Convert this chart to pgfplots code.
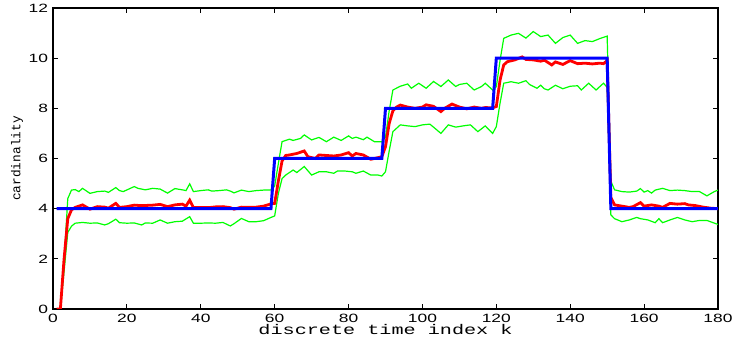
\documentclass[border=0pt]{standalone}
\usepackage{fontspec}
\setmainfont{Liberation Sans}
\newfontfamily\monofont{Liberation Mono}
\usepackage{pgfplots}
\pgfplotsset{compat=1.18}
\begin{document}
\begin{tikzpicture}
\begin{axis}[
  scale only axis, width=332.5pt, height=150.5pt,
  xmin=0, xmax=180, ymin=0, ymax=12,
  xtick={0,20,...,180}, ytick={0,2,...,12},
  tick align=inside, major tick length=2.5pt,
  tick style={black, line width=0.4pt},
  axis line style={black, line width=0.6pt},
  /pgf/number format/assume math mode=true,
  tick label style={font=\fontsize{6}{7}\selectfont, xscale=1.45},
  xticklabel style={anchor=north, inner sep=0pt, yshift=-2.5pt},
  yticklabel style={anchor=east, inner sep=0pt, xshift=-1.5pt},
  xlabel={discrete time index k},
  xlabel style={at={(axis description cs:0.5,0)}, anchor=north, inner sep=0pt, yshift=-7.5pt, font=\monofont\fontsize{7}{8}\selectfont, xscale=1.44},
  ylabel={cardinality},
  ylabel style={at={(axis description cs:-0.054,0.5)}, anchor=center, rotate=0, font=\monofont\fontsize{6.4}{7}\selectfont},
  clip=true,
]
\addplot[color={rgb,255:red,0;green,255;blue,0}, line width=0.6pt] coordinates {
(2,0)(3,1.9)(4,4.4)(5,4.74)(6,4.76)(7,4.68)(8,4.81)(10,4.61)(12,4.68)(14,4.7)(15,4.65)(17,4.84)(18,4.72)(19,4.68)(22,4.88)(23,4.81)(25,4.75)(27,4.81)(29,4.78)(31,4.62)(33,4.8)(35,4.75)(36,4.72)(37,4.99)(38,4.68)(40,4.72)(42,4.75)(43,4.7)(45,4.72)(47,4.75)(48,4.7)(49,4.63)(51,4.74)(53,4.68)(55,4.72)(57,4.74)(59,4.74)(60,4.9)(61,5.8)(62,6.67)(63,6.72)(64,6.77)(65,6.72)(67,6.8)(68,6.94)(70,6.74)(72,6.84)(74,6.67)(76,6.85)(78,6.72)(80,6.9)(81,6.8)(82,6.85)(84,6.75)(85,6.85)(87,6.67)(89,6.67)(90,6.85)(91,7.9)(92,8.73)(94,8.88)(96,8.97)(97,8.8)(99,9.0)(101,8.8)(103,9.07)(105,8.87)(107,9.13)(109,8.87)(110,8.95)(112,9.0)(114,8.73)(116,8.87)(117,9.0)(119,8.73)(120,8.86)(121,9.9)(122,10.79)(124,10.92)(126,10.99)(128,10.8)(130,11.06)(132,10.86)(134,10.92)(136,10.59)(138,10.82)(140,10.92)(142,10.59)(144,10.7)(146,10.66)(148,10.78)(150,10.88)(151,5.1)(152,4.75)(154,4.68)(156,4.66)(158,4.7)(159,4.8)(160,4.66)(161,4.72)(162,4.62)(163,4.74)(165,4.81)(167,4.72)(169,4.74)(171,4.72)(173,4.68)(175,4.68)(177,4.51)(179,4.68)(180,4.74)
};
\addplot[color={rgb,255:red,0;green,255;blue,0}, line width=0.6pt] coordinates {
(2,0)(3,1.5)(4,3.05)(5,3.3)(6,3.42)(8,3.45)(10,3.42)(12,3.43)(14,3.35)(15,3.4)(17,3.58)(18,3.44)(20,3.42)(22,3.43)(24,3.35)(25,3.43)(27,3.42)(29,3.55)(31,3.42)(33,3.48)(35,3.5)(37,3.68)(38,3.42)(40,3.42)(42,3.43)(44,3.42)(46,3.45)(48,3.31)(49,3.4)(51,3.61)(53,3.48)(55,3.48)(57,3.52)(59,3.65)(60,3.71)(61,4.6)(62,5.2)(63,5.34)(65,5.54)(66,5.44)(68,5.68)(70,5.34)(72,5.47)(74,5.47)(76,5.41)(77,5.5)(79,5.5)(81,5.47)(82,5.41)(84,5.5)(86,5.34)(88,5.34)(89,5.3)(90,5.47)(91,6.3)(92,7.07)(94,7.34)(96,7.3)(98,7.27)(100,7.34)(102,7.37)(103,7.25)(105,7.0)(107,7.34)(109,7.25)(111,7.3)(113,7.34)(115,7.07)(117,7.3)(119,7.0)(120,7.27)(121,8.2)(122,9.0)(124,9.06)(126,9.0)(128,9.1)(129,8.95)(131,8.8)(132,8.92)(133,8.78)(134,8.73)(136,8.92)(138,8.78)(140,8.88)(142,8.9)(143,8.73)(145,9.0)(147,8.73)(149,9.0)(150,8.84)(151,3.75)(152,3.6)(154,3.48)(156,3.55)(158,3.65)(159,3.6)(161,3.55)(163,3.44)(164,3.6)(165,3.44)(167,3.55)(169,3.65)(171,3.55)(173,3.48)(175,3.53)(177,3.53)(180,3.37)
};
\addplot[color={rgb,255:red,255;green,0;blue,0}, line width=1.4pt] coordinates {
(1,0)(2,0)(3,2.0)(4,3.6)(5,3.95)(6,4.05)(8,4.15)(10,3.98)(12,4.08)(14,4.06)(15,4.02)(17,4.21)(18,4.05)(20,4.08)(22,4.14)(24,4.12)(27,4.14)(29,4.17)(31,4.08)(33,4.15)(35,4.18)(36,4.1)(37,4.34)(38,4.05)(40,4.05)(42,4.04)(44,4.07)(46,4.08)(48,4.04)(49,3.98)(51,4.06)(53,4.05)(55,4.06)(57,4.1)(59,4.19)(60,4.21)(61,5.1)(62,5.9)(63,6.12)(64,6.14)(66,6.2)(68,6.3)(69,6.07)(71,6.0)(72,6.14)(74,6.12)(76,6.1)(78,6.14)(80,6.23)(81,6.1)(82,6.2)(84,6.14)(86,5.97)(87,6.0)(89,6.07)(90,6.47)(91,7.4)(92,7.9)(93,8.05)(94,8.13)(96,8.05)(98,8.0)(100,8.05)(101,8.14)(103,8.08)(105,7.87)(106,8.0)(108,8.17)(110,8.05)(112,7.98)(114,8.05)(116,8.0)(117,8.03)(119,8.02)(120,8.07)(121,9.12)(122,9.73)(123,9.86)(125,9.93)(127,10.05)(128,9.95)(130,9.93)(132,9.88)(133,9.92)(135,9.73)(136,9.85)(138,9.75)(140,9.9)(142,9.78)(144,9.8)(146,9.77)(148,9.8)(149,9.78)(150,9.9)(151,4.45)(152,4.15)(154,4.1)(156,4.05)(157,4.08)(159,4.24)(160,4.1)(162,4.15)(164,4.1)(165,4.05)(167,4.21)(169,4.18)(171,4.2)(172,4.15)(174,4.12)(176,4.06)(178,4.02)(180,4.0)
};
\addplot[color={rgb,255:red,0;green,0;blue,255}, line width=1.5pt] coordinates {
(1,4)(59,4)(60,6)(89,6)(90,8)(119,8)(120,10)(150,10)(151,4)(180,4)
};
\end{axis}
\pgfresetboundingbox
\path[use as bounding box] ([xshift=-26.5pt,yshift=-15.5pt]current axis.south west) rectangle ([xshift=8.5pt,yshift=4pt]current axis.north east);
\end{tikzpicture}
\end{document}
